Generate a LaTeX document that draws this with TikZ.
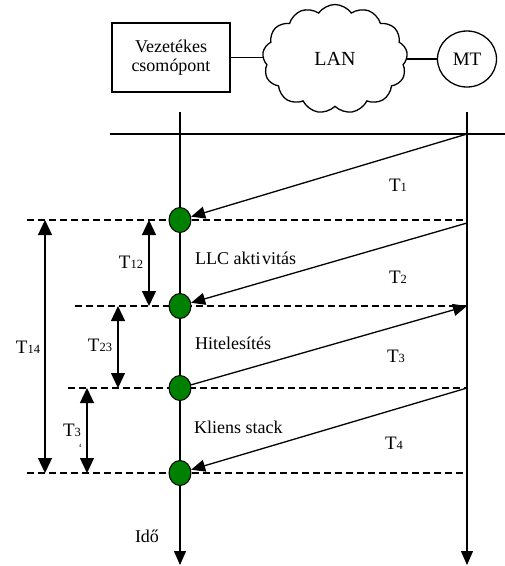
\documentclass[tikz,border=0pt]{standalone}
\usepackage{fontspec}
\setmainfont{Liberation Serif}
\usetikzlibrary{arrows.meta,shapes.symbols,shapes.geometric}
\newcommand\Tsub[1]{{\fontsize{19pt}{20pt}\selectfont T}{\fontsize{12.5pt}{13pt}\selectfont #1}}
\begin{document}
\begin{tikzpicture}[x=1pt,y=-1pt,
  lbl/.style={font=\fontsize{18pt}{20pt}\selectfont, inner sep=0pt},
  ln/.style={line width=1.3pt},
  dsh/.style={line width=1.2pt, dash pattern=on 7pt off 4pt},
  tip/.style={-{Triangle[length=14pt,width=12pt]}},
  dtip/.style={{Triangle[length=15pt,width=14pt]}-{Triangle[length=15pt,width=14pt]}},
  evt/.style={ellipse, draw, line width=1pt, fill=green!50!black, minimum width=22pt, minimum height=25pt, inner sep=0pt}]
\useasboundingbox (0,0) rectangle (505,566);
% top entities
\node[draw, ln, minimum width=118pt, minimum height=69pt, align=center, inner sep=0pt,
      font=\fontsize{18pt}{19pt}\selectfont] (vez) at (171,57.5) {Vezetékes\\csomópont};
\node[cloud, draw, ln, cloud puffs=13, cloud puff arc=110, aspect=1.35,
      minimum width=145pt, minimum height=109pt, inner sep=0pt,
      font=\fontsize{20pt}{22pt}\selectfont] (lan) at (335,59) {LAN};
\node[ellipse, draw, ln, minimum width=59pt, minimum height=56pt, inner sep=0pt,
      font=\fontsize{19pt}{20pt}\selectfont] (mt) at (467,59) {MT};
\draw[ln] (vez.east) -- (vez.east -| lan.west);
\draw[ln] (lan.east) -- (lan.east -| mt.west);
% time axes
\coordinate (ltop) at (180,112);
\coordinate (lbot) at (180,565);
\coordinate (rtop) at (467,112);
\coordinate (rbot) at (467,565);
\draw[ln, tip] (ltop) -- (lbot);
\draw[ln, tip] (rtop) -- (rbot);
\coordinate (hl) at (110,134);
\coordinate (hr) at (505,134);
\draw[ln] (hl) -- (hr);
% right-axis points
\coordinate (R0) at (467,134);
\coordinate (R1) at (467,223);
\coordinate (R2) at (467,306);
\coordinate (R3) at (467,388);
\coordinate (R4) at (467,473);
% dashed lines
\coordinate (d1) at (27,220);
\coordinate (d2) at (75,306);
\coordinate (d3) at (68,388);
\coordinate (d4) at (27,473);
\coordinate (d1r) at (467,220);
\draw[dsh] (d1) -- (d1r);
\draw[dsh] (d2) -- (R2);
\draw[dsh] (d3) -- (R3);
\draw[dsh] (d4) -- (R4);
% event circles
\node[evt] (c1) at (180,220) {};
\node[evt] (c2) at (180,306) {};
\node[evt] (c3) at (180,388) {};
\node[evt] (c4) at (180,473) {};
% messages
\draw[ln, tip] (R0) -- (c1);
\draw[ln, tip] (R1) -- (c2);
\draw[ln, tip] (c3) -- (R2);
\draw[ln, tip] (R3) -- (c4);
% labels
\node[lbl] (t1) at (398,185) {\Tsub{1}};
\node[lbl] (t2) at (398,277) {\Tsub{2}};
\node[lbl] (t3) at (396,356) {\Tsub{3}};
\node[lbl] (t4) at (394,443) {\Tsub{4}};
\node[lbl, anchor=west] (llc) at (195,258) {LLC akti\hspace{1.5pt}vitás};
\node[lbl, anchor=west] (hit) at (195,343) {Hitelesítés};
\node[lbl, anchor=west] (kli) at (194,427) {Kliens stack};
\node[lbl] (ido) at (147,536) {Idő};
% interval arrows
\coordinate (a14t) at (45,220); \coordinate (a14b) at (45,473);
\coordinate (a12t) at (149,220); \coordinate (a12b) at (149,306);
\coordinate (a23t) at (118,306); \coordinate (a23b) at (118,388);
\coordinate (a34t) at (87,388); \coordinate (a34b) at (87,473);
\draw[ln, dtip] (a14t) -- (a14b);
\draw[ln, dtip] (a12t) -- (a12b);
\draw[ln, dtip] (a23t) -- (a23b);
\draw[ln, dtip] (a34t) -- (a34b);
\node[lbl] (t14) at (28,347) {\Tsub{14}};
\node[lbl] (t12) at (131,262) {\Tsub{12}};
\node[lbl] (t23) at (100,345) {\Tsub{23}};
\node[lbl] (t34) at (72,430) {\Tsub{3}};
\node[font=\fontsize{5pt}{5pt}\selectfont, inner sep=0pt] (t34b) at (80,446) {4};
\end{tikzpicture}
\end{document}
